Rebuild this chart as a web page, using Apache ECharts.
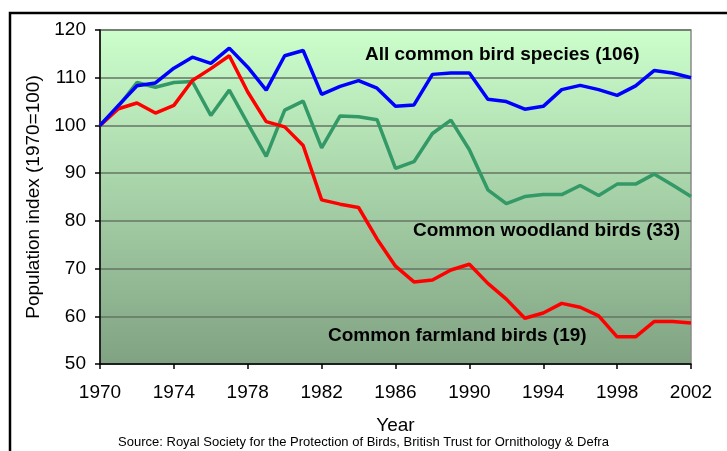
<!DOCTYPE html>
<html>
<head>
<meta charset="utf-8">
<script src="https://cdn.jsdelivr.net/npm/echarts@6/dist/echarts.min.js"></script>
<style>
html,body{margin:0;padding:0;background:#fff;}
#chart{width:727px;height:451px;}
</style>
</head>
<body>
<div id="chart"></div>
<script>
var years = [1970,1971,1972,1973,1974,1975,1976,1977,1978,1979,1980,1981,1982,1983,1984,1985,1986,1987,1988,1989,1990,1991,1992,1993,1994,1995,1996,1997,1998,1999,2000,2001,2002];
var allSpecies = [100,104.2,108.3,108.9,112.0,114.3,113.0,116.2,112.2,107.4,114.6,115.7,106.5,108.2,109.4,107.8,104.0,104.3,110.7,111.0,111.0,105.5,105.0,103.4,104.0,107.5,108.4,107.5,106.3,108.3,111.5,111.0,110.0];
var woodland = [100,104.0,109.0,108.0,109.0,109.2,102.1,107.4,100.4,93.5,103.2,105.1,95.3,102.0,101.8,101.2,91.0,92.4,98.3,101.1,94.9,86.5,83.6,85.1,85.5,85.5,87.4,85.3,87.7,87.7,89.8,87.5,85.1];
var farmland = [100,103.5,104.7,102.6,104.2,109.4,111.9,114.6,107.0,100.8,99.7,95.8,84.4,83.5,82.8,76.2,70.5,67.2,67.6,69.7,70.9,66.9,63.6,59.6,60.7,62.7,61.9,60.1,55.7,55.7,58.9,58.9,58.6];
var seriesNames = ['All common bird species (106)','Common woodland birds (33)','Common farmland birds (19)'];
var seriesColors = ['#0000FF','#339966','#FF0000'];
var yTicks = {min:50, max:120, interval:10};
var xTicks = {min:1970, max:2002, interval:4};

function pairs(vals){ return years.map(function(y,i){ return [y, vals[i]]; }); }

var chart = echarts.init(document.getElementById('chart'), null, {renderer:'canvas'});
var font = '"Liberation Sans", Arial, sans-serif';
var option = {
  animation:false,
  backgroundColor:'#ffffff',
  grid:{left:100, top:30, right:36, bottom:87, show:true,
    borderColor:'#8a8a8a', borderWidth:1.5,
    backgroundColor:{type:'linear', x:0, y:0, x2:0, y2:1, colorStops:[
      {offset:0, color:'#CCFFCC'},{offset:1, color:'#80A282'}]}},
  xAxis:{type:'value', min:xTicks.min, max:xTicks.max, interval:xTicks.interval,
    name:'Year', nameLocation:'middle', nameGap:52,
    nameTextStyle:{fontFamily:font, fontSize:19, color:'#000'},
    axisLine:{lineStyle:{color:'#000', width:1.5}},
    axisTick:{show:true, length:5, inside:false, lineStyle:{color:'#000', width:1.5}},
    axisLabel:{fontFamily:font, fontSize:19, color:'#000', margin:19, formatter:function(v){return String(v);}},
    splitLine:{show:false}},
  yAxis:{type:'value', min:yTicks.min, max:yTicks.max, interval:yTicks.interval,
    name:'Population index (1970=100)', nameLocation:'middle', nameGap:56, nameRotate:90,
    nameTextStyle:{fontFamily:font, fontSize:19, color:'#000'},
    axisLine:{show:true, lineStyle:{color:'#000', width:1.5}},
    axisTick:{show:true, length:5, lineStyle:{color:'#000', width:1.5}},
    axisLabel:{fontFamily:font, fontSize:19, color:'#000', margin:14},
    splitLine:{show:true, lineStyle:{color:'#657565', width:1.5}}},
  series:[
    {name:seriesNames[1], type:'line', data:pairs(woodland), symbol:'none', lineStyle:{color:seriesColors[1], width:3.5}, z:3},
    {name:seriesNames[2], type:'line', data:pairs(farmland), symbol:'none', lineStyle:{color:seriesColors[2], width:3.5}, z:4},
    {name:seriesNames[0], type:'line', data:pairs(allSpecies), symbol:'none', lineStyle:{color:seriesColors[0], width:3.5}, z:5}
  ],
  graphic:[
    {type:'rect', shape:{x:10, y:13, width:740, height:460}, style:{fill:'none', stroke:'#000', lineWidth:2.5}, z:100},
    {type:'text', left:365, top:45, style:{text:seriesNames[0], font:'bold 19px "Liberation Sans", Arial, sans-serif', fill:'#000'}, z:101},
    {type:'text', left:413, top:221, style:{text:seriesNames[1], font:'bold 19px "Liberation Sans", Arial, sans-serif', fill:'#000'}, z:101},
    {type:'text', left:328, top:326, style:{text:seriesNames[2], font:'bold 19px "Liberation Sans", Arial, sans-serif', fill:'#000'}, z:101},
    {type:'text', left:'center', top:436, style:{text:'Source: Royal Society for the Protection of Birds, British Trust for Ornithology & Defra', font:'13px "Liberation Sans", Arial, sans-serif', fill:'#000'}, z:101}
  ]
};
chart.setOption(option);
</script>
</body>
</html>
